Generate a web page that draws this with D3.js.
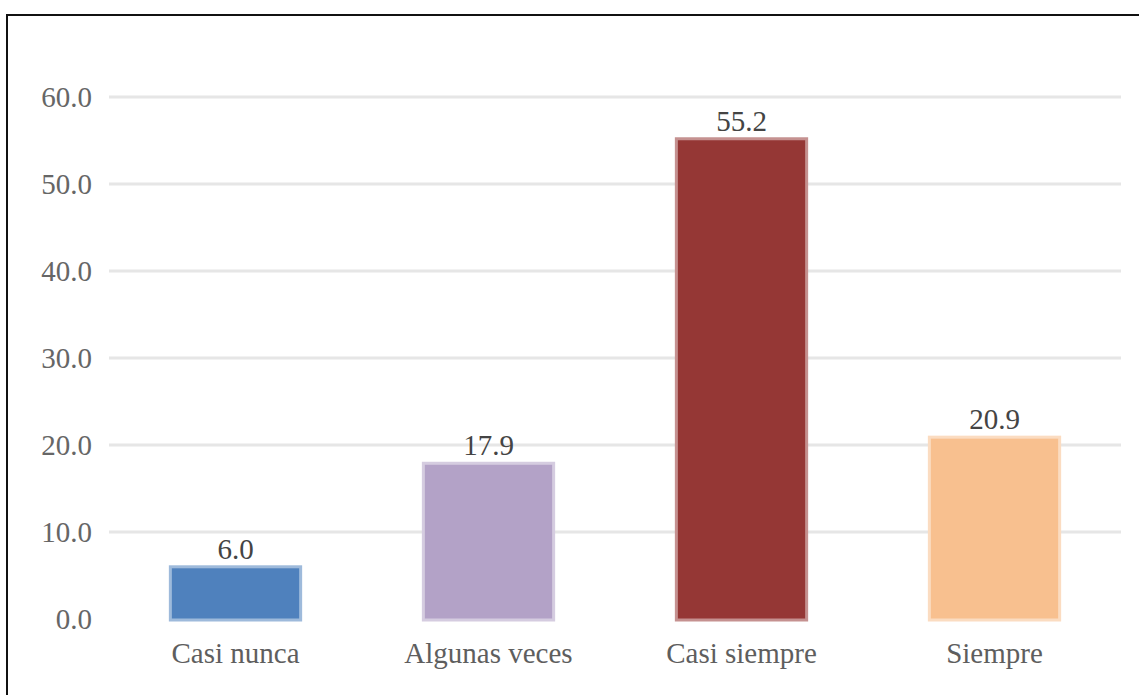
<!DOCTYPE html>
<html><head><meta charset="utf-8">
<script src="https://cdn.jsdelivr.net/npm/d3@7"></script>
<style>body{margin:0;background:#fff}svg{display:block}</style>
</head><body>
<script>
const categories = ["Casi nunca", "Algunas veces", "Casi siempre", "Siempre"];
const values = [6.0, 17.9, 55.2, 20.9];
const colors = ["#4F81BD", "#B3A2C7", "#953735", "#F8C08F"];
const yTicks = [0, 10, 20, 30, 40, 50, 60];

const W = 1139, H = 695;
const svg = d3.select("body").append("svg").attr("width", W).attr("height", H);
svg.append("rect").attr("width", W).attr("height", H).attr("fill", "#fff");
// frame
svg.append("rect").attr("x", 7).attr("y", 15).attr("width", W + 10).attr("height", H + 10)
  .attr("fill", "none").attr("stroke", "#111").attr("stroke-width", 2);

const x = d3.scaleBand().domain(categories).range([109, 1121]).paddingInner(0.485).paddingOuter(0.2425);
const y = d3.scaleLinear().domain([0, 60]).range([619, 97]);
const font = "'Liberation Serif', 'Times New Roman', serif";

const grid = svg.append("g");
grid.selectAll("line").data(yTicks.filter(d => d > 0)).join("line")
  .attr("x1", 109).attr("x2", 1121)
  .attr("y1", d => y(d)).attr("y2", d => y(d))
  .attr("stroke", "#e6e6e6").attr("stroke-width", 3);

const yAxis = d3.axisLeft(y).tickValues(yTicks).tickFormat(d3.format(".1f")).tickSize(0).tickPadding(0);
const ya = svg.append("g").attr("transform", "translate(92,0)").call(yAxis);
ya.select(".domain").remove();
ya.selectAll("text").attr("font-family", font).attr("font-size", 29).attr("fill", "#666").attr("dy", "0.32em");

svg.append("g").selectAll("rect").data(values).join("rect")
  .attr("x", (d, i) => x(categories[i]))
  .attr("width", x.bandwidth())
  .attr("y", d => y(d))
  .attr("height", d => y(0) - y(d) + 1)
  .attr("fill", (d, i) => colors[i])
  .attr("stroke", (d, i) => d3.interpolateRgb(colors[i], "#fff")(0.45))
  .attr("stroke-width", 3);

svg.append("g").selectAll("text").data(values).join("text")
  .attr("x", (d, i) => x(categories[i]) + x.bandwidth() / 2)
  .attr("y", d => y(d) - 8)
  .attr("text-anchor", "middle")
  .attr("font-family", font).attr("font-size", 29).attr("fill", "#444")
  .text(d => d3.format(".1f")(d));

const xAxis = d3.axisBottom(x).tickSize(0).tickPadding(0);
const xa = svg.append("g").attr("transform", "translate(0,663)").call(xAxis);
xa.select(".domain").remove();
xa.selectAll("text").attr("font-family", font).attr("font-size", 29).attr("fill", "#5e5e5e").attr("dy", "0");
</script>
</body></html>
